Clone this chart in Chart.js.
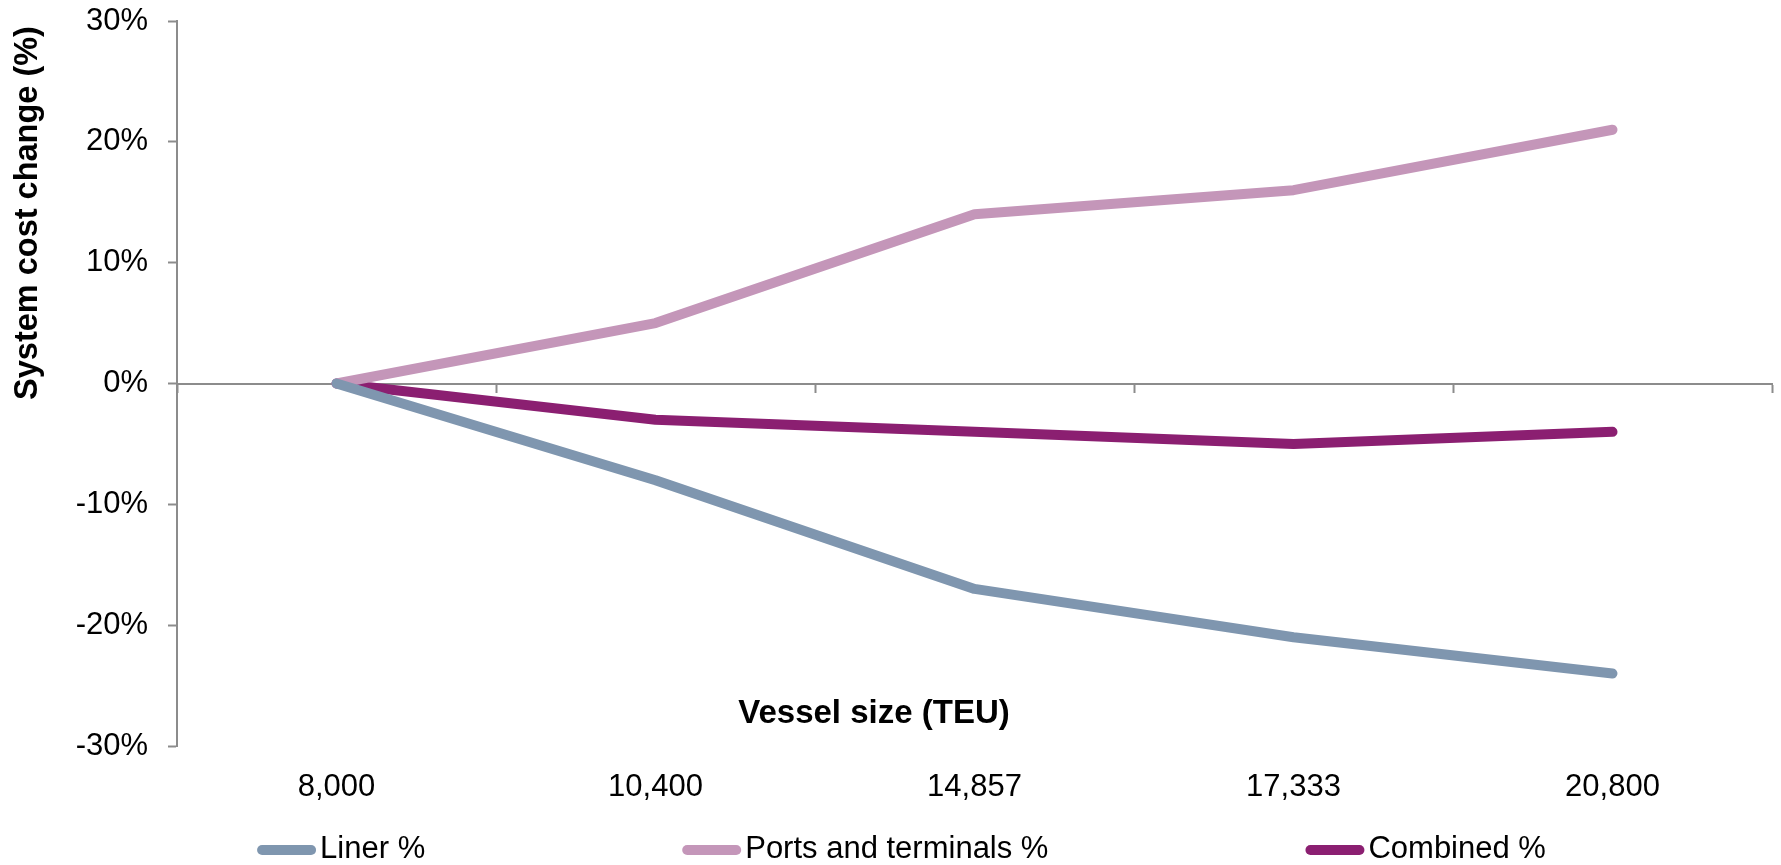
<!DOCTYPE html>
<html>
<head>
<meta charset="utf-8">
<script src="https://cdn.jsdelivr.net/npm/chart.js@4.4.1/dist/chart.umd.min.js"></script>
<style>
    html, body { margin: 0; padding: 0; background: #fff; }
    canvas { display: block; }
</style>
</head>
<body>
<canvas id="chart" width="1781" height="865"></canvas>
<script>
// vessel size categories (TEU)
const vesselSizes = ['8,000', '10,400', '14,857', '17,333', '20,800'];

// system cost change, % vs 8,000 TEU
const linerPct    = [0, -8, -17, -21, -24];
const portsPct    = [0, 5, 14, 16, 21];
const combinedPct = [0, -3, -4, -5, -4];

const yTickValues = [-30, -20, -10, 0, 10, 20, 30];

const seriesNames = ['Liner %', 'Ports and terminals %', 'Combined %'];

const FONT      = "'Liberation Sans', Arial, sans-serif";
const AXIS_GREY = '#8c8c8c';
const COLORS    = {
    liner    : '#7f96af',
    ports    : '#c496b9',
    combined : '#8b1f71',
};


// axis titles + legend sit where Excel put them, not where Chart.js would
const titlesAndLegend = {
    id : 'titlesAndLegend',
    afterDraw(chart) {
        const ctx = chart.ctx;
        ctx.save();
        ctx.fillStyle    = '#000';
        ctx.textAlign    = 'center';
        ctx.textBaseline = 'middle';
        ctx.font         = `bold 33px ${FONT}`;
        ctx.fillText('Vessel size (TEU)', 874, 714);

        ctx.save();
        ctx.translate(28, 213);
        ctx.rotate(-Math.PI / 2);
        ctx.font = `bold 32.5px ${FONT}`;
        ctx.fillText('System cost change (%)', 0, 0);
        ctx.restore();

        // legend row
        ctx.font      = `31px ${FONT}`;
        ctx.textAlign = 'left';
        const sample = 59, gapText = 4, gapItem = 257, ly = 849;
        const items  = chart.data.datasets.map(ds => ({
            label : ds.label,
            color : ds.borderColor,
            w     : sample + gapText + ctx.measureText(ds.label).width,
        }));
        const total = items.reduce((s, it) => s + it.w, 0) + gapItem * (items.length - 1);
        let x = chart.width / 2 + 11 - total / 2;

        items.forEach(it => {
            ctx.strokeStyle = it.color;
            ctx.lineWidth   = 10;
            ctx.lineCap     = 'round';
            ctx.beginPath();
            ctx.moveTo(x + 5, ly + 1);
            ctx.lineTo(x + sample - 5, ly + 1);
            ctx.stroke();
            ctx.fillText(it.label, x + sample + gapText, ly);
            x += it.w + gapItem;
        });
        ctx.restore();
    },
};


function lineDataset(label, data, color) {
    return {
        label,
        data,
        xAxisID          : 'x',
        yAxisID          : 'y',
        borderColor      : color,
        backgroundColor  : color,
        borderWidth      : 10,
        borderCapStyle   : 'round',
        borderJoinStyle  : 'round',
        tension          : 0,
        fill             : false,
        pointRadius      : 0,
        pointHoverRadius : 0,
    };
}

new Chart(document.getElementById('chart').getContext('2d'), {
    type : 'line',
    data : {
        labels   : vesselSizes,
        datasets : [
            lineDataset(seriesNames[0], linerPct, COLORS.liner),
            lineDataset(seriesNames[1], portsPct, COLORS.ports),
            lineDataset(seriesNames[2], combinedPct, COLORS.combined),
        ],
    },
    options : {
        responsive : false,
        animation  : false,
        layout     : { padding: { left: 0, right: 9, top: 21, bottom: 0 } },
        plugins    : {
            legend  : { display: false },
            tooltip : { enabled: false },
        },
        scales : {
            // bottom row of category labels
            x : {
                type     : 'category',
                position : 'bottom',
                offset   : true,
                grid     : { display: false, drawTicks: false },
                border   : { display: false },
                ticks    : {
                    color       : '#000',
                    font        : { family: FONT, size: 31 },
                    padding     : 23,
                    maxRotation : 0,
                    autoSkip    : false,
                },
                afterFit : (s) => { s.height = 119; },
            },
            // the horizontal axis line itself crosses at 0%
            xZero : {
                type     : 'category',
                axis     : 'x',
                position : { y: 0 },
                offset   : true,
                grid     : {
                    offset          : true,
                    drawOnChartArea : false,
                    drawTicks       : true,
                    tickLength      : 8,
                    tickWidth       : 2,
                    tickColor       : AXIS_GREY,
                },
                border   : { display: true, color: AXIS_GREY, width: 2 },
                ticks    : { display: false },
                afterFit : (s) => { s.height = 0; },
            },
            y : {
                min      : -30,
                max      : 30,
                grid     : {
                    drawOnChartArea : false,
                    drawTicks       : true,
                    tickLength      : 9,
                    tickWidth       : 2,
                    tickColor       : AXIS_GREY,
                },
                border   : { display: true, color: AXIS_GREY, width: 2 },
                ticks    : {
                    color    : '#000',
                    font     : { family: FONT, size: 31 },
                    padding  : 20,
                    callback : (v) => `${v}%`,
                },
                afterBuildTicks : (s) => { s.ticks = yTickValues.map(v => ({ value: v })); },
                afterFit        : (s) => {
                    s.width = 177;
                    // label overhang is already covered by the layout padding
                    s.paddingTop = 0;
                    s.paddingBottom = 0;
                },
            },
        },
    },
    plugins : [titlesAndLegend],
});
</script>
</body>
</html>
